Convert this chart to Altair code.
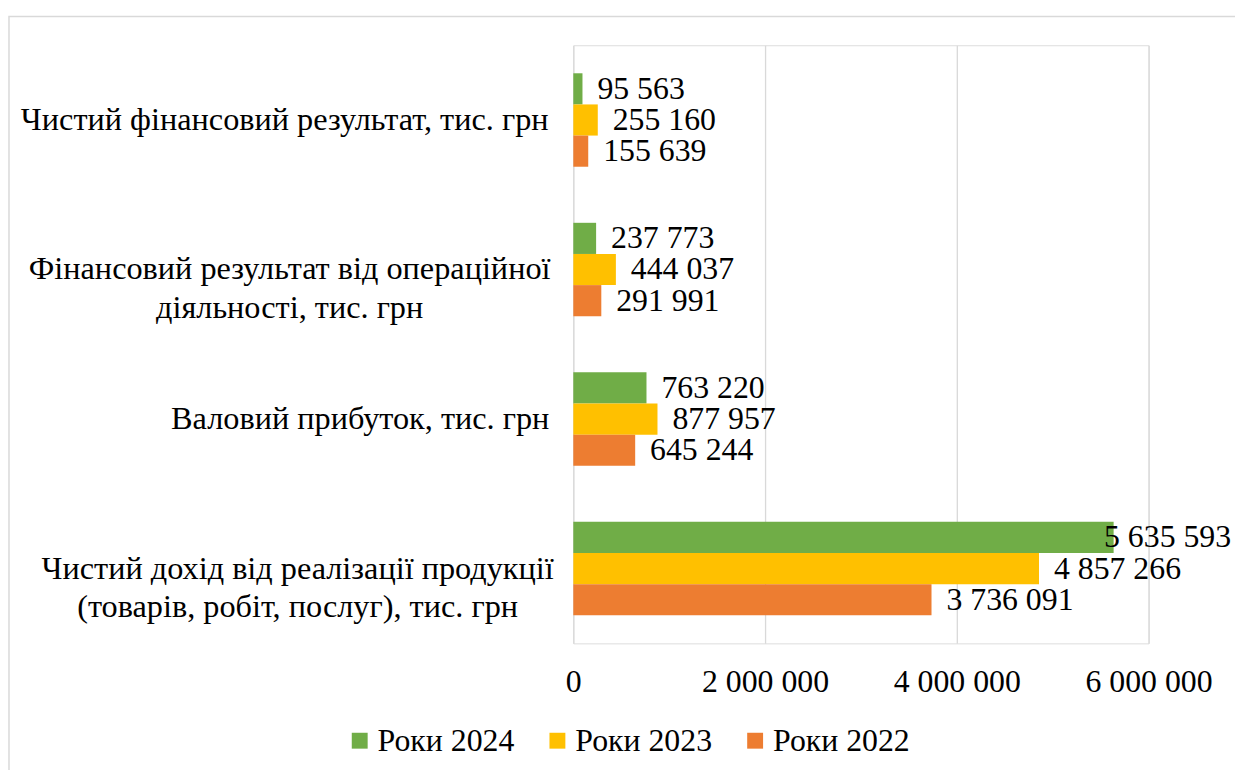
import altair as alt
import pandas as pd

categories = [
    "Чистий фінансовий результат, тис. грн",
    "Фінансовий результат від операційної|діяльності, тис. грн",
    "Валовий прибуток, тис. грн",
    "Чистий дохід від реалізації продукції|(товарів, робіт, послуг), тис. грн",
]
series = ["Роки 2024", "Роки 2023", "Роки 2022"]
values_2024 = [95563, 237773, 763220, 5635593]
values_2023 = [255160, 444037, 877957, 4857266]
values_2022 = [155639, 291991, 645244, 3736091]
colors = ["#70AD47", "#FFC000", "#ED7D31"]
x_ticks = [0, 2000000, 4000000, 6000000]

rows = []
for i, c in enumerate(categories):
    for s, vals in zip(series, [values_2024, values_2023, values_2022]):
        rows.append({"category": c, "series": s, "value": vals[i]})
df = pd.DataFrame(rows)

FONT = "Liberation Serif"
FS = 32
FS_Y = 32.5

pad_cond = {
    "condition": [
        {"test": "indexof(datum.value, 'Чистий фін') === 0", "value": 291},
        {"test": "indexof(datum.value, 'Фінансовий') === 0", "value": 286},
        {"test": "indexof(datum.value, 'Валовий') === 0", "value": 215},
    ],
    "value": 278,
}

y_enc = alt.Y(
    "category:N",
    sort=categories,
    scale=alt.Scale(paddingInner=0.375, paddingOuter=0.1875),
    axis=alt.Axis(
        title=None,
        domain=False,
        ticks=False,
        labelExpr="split(datum.label, '|')",
        labelAlign="center",
        labelBaseline="middle",
        labelPadding=pad_cond,
        labelLimit=0,
        labelFont=FONT,
        labelFontSize=FS_Y,
        labelColor="black",
        labelLineHeight=39,
    ),
)
yoff_enc = alt.YOffset("series:N", sort=series, scale=alt.Scale(paddingInner=0, paddingOuter=0))

x_scale = alt.Scale(domain=[0, 6000000], nice=False)

bars = alt.Chart(df).mark_bar().encode(
    y=y_enc,
    yOffset=yoff_enc,
    x=alt.X(
        "value:Q",
        scale=x_scale,
        axis=alt.Axis(
            title=None,
            values=x_ticks,
            labelExpr="replace(format(datum.value, ','), regexp(',', 'g'), ' ')",
            labelFlush=False,
            labelOverlap=False,
            grid=True,
            gridColor="#d9d9d9",
            gridWidth=1.3,
            ticks=False,
            domain=False,
            labelFont=FONT,
            labelFontSize=FS,
            labelColor="black",
            labelPadding=23,
        ),
    ),
    color=alt.Color(
        "series:N",
        sort=series,
        scale=alt.Scale(domain=series, range=colors),
        legend=alt.Legend(
            title=None,
            orient="none",
            legendX=-231,
            legendY=684,
            direction="horizontal",
            symbolType="square",
            symbolSize=256,
            symbolStrokeWidth=0,
            labelFont=FONT,
            labelFontSize=FS,
            labelColor="black",
            labelOffset=2,
            columnPadding=27,
            padding=0,
        ),
    ),
)

text = alt.Chart(df).transform_calculate(
    label="replace(format(datum.value, ','), regexp(',', 'g'), ' ')",
    labelx="min(datum.value, 5380000)",
).mark_text(
    align="left", baseline="middle", dx=15, font=FONT, fontSize=FS, color="black"
).encode(
    y=alt.Y("category:N", sort=categories),
    yOffset=alt.YOffset("series:N", sort=series),
    x=alt.X("labelx:Q"),
    text="label:N",
)

frame = alt.Chart(pd.DataFrame({"a": [0]})).mark_rect(
    fill="transparent", stroke="#d9d9d9", strokeWidth=1.5
).encode(
    x=alt.value(-568), x2=alt.value(800), y=alt.value(-29), y2=alt.value(900)
)

chart = alt.layer(frame, bars, text).properties(
    width=579,
    height=602,
    autosize=alt.AutoSizeParams(type="none"),
    padding={"left": 569, "top": 35, "right": 87, "bottom": 125},
).configure_view(stroke=None).configure(font=FONT)

chart.save("out.html", embed_options={"renderer": "svg", "actions": False})
